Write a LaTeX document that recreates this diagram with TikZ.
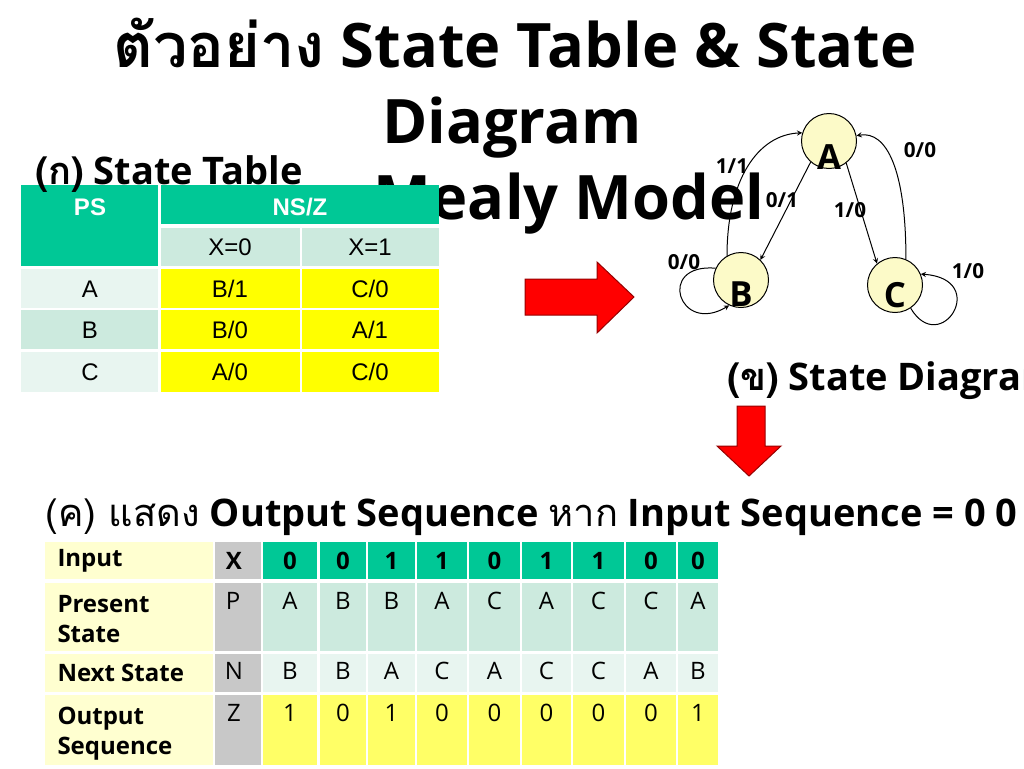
\documentclass[tikz,border=0pt]{standalone}
\usepackage{fontspec}
\setmainfont{Open Sans}
\newfontfamily\thaifont[Script=Thai]{Loma}
\newfontfamily\arialfont{Liberation Sans}
\usepackage{tikz}
\usetikzlibrary{calc,positioning,arrows}
\definecolor{Teal}{RGB}{0,200,150}
\definecolor{LightTeal}{RGB}{204,234,222}
\definecolor{PaleTeal}{RGB}{232,245,240}
\definecolor{Lemon}{RGB}{255,255,0}
\definecolor{Cream}{RGB}{255,255,208}
\definecolor{SoftYellow}{RGB}{255,255,102}
\definecolor{Grey}{RGB}{200,200,200}
\definecolor{StateFill}{RGB}{252,250,200}
\definecolor{ArrowRed}{RGB}{255,0,0}
\definecolor{DarkRed}{RGB}{150,0,0}
\newcommand{\thai}[1]{{\thaifont #1}}

\begin{document}
\begin{tikzpicture}[x=0.75pt, y=-0.75pt,
       >=stealth, line width=0.75pt,
       every node/.style={inner sep=0pt},
       titletext/.style={font=\bfseries\fontsize{46}{56}\selectfont, anchor=base},
       heading/.style={font=\bfseries\fontsize{28.5}{34}\selectfont, anchor=base west},
       tabhead/.style={font=\arialfont\bfseries\fontsize{18}{21}\selectfont, text=white},
       tabtext/.style={font=\arialfont\fontsize{18}{21}\selectfont},
       rowlabel/.style={font=\bfseries\fontsize{18}{22.5}\selectfont, align=left},
       valbold/.style={font=\bfseries\fontsize{18}{21}\selectfont},
       valtext/.style={font=\fontsize{18}{21}\selectfont, anchor=base},
       stnode/.style={circle, draw=black, fill=StateFill, minimum size=41.25pt},
       stletter/.style={anchor=base, font=\bfseries\fontsize{26}{30}\selectfont},
       elabel/.style={font=\bfseries\fontsize{15.5}{18}\selectfont},
       bigarrow/.style={fill=ArrowRed, draw=DarkRed, line width=0.75pt}]
	\useasboundingbox (0,0) rectangle (1024,768);
	\clip (0,0) rectangle (1024,768);

	%% Title
	\node[titletext] (title1) at (515,67) {\thai{ตัวอย่าง} State Table \& State};
	\node[titletext] (title2) at (512,143) {Diagram};
	\node[titletext] (title3) at (569,219) {Mealy Model};

	%% State table
	\fill[Teal] (21,185) rectangle (158,266);
	\fill[Teal] (161,185) rectangle (439,224);
	\fill[LightTeal] (161,228) rectangle (300,266);
	\fill[LightTeal] (302,228) rectangle (439,266);
	\fill[PaleTeal] (21,269) rectangle (158,308);
	\fill[LightTeal] (21,310) rectangle (158,349);
	\fill[PaleTeal] (21,352) rectangle (158,392);
	\foreach \yt/\yb in {269/308, 310/349, 352/392} {
		\fill[Lemon] (161,\yt) rectangle (300,\yb);
		\fill[Lemon] (302,\yt) rectangle (439,\yb);
	}
	\node[tabhead] (ps) at (90,207) {PS};
	\node[tabhead] (nsz) at (300,207) {NS/Z};
	\node[tabtext] (xzero) at (230,247) {X=0};
	\node[tabtext] (xone) at (370,247) {X=1};
	\node[tabtext] (psa) at (90,289) {A};
	\node[tabtext] (nsa0) at (230,289) {B/1};
	\node[tabtext] (nsa1) at (370,289) {C/0};
	\node[tabtext] (psb) at (90,330) {B};
	\node[tabtext] (nsb0) at (230,330) {B/0};
	\node[tabtext] (nsb1) at (370,330) {A/1};
	\node[tabtext] (psc) at (90,372) {C};
	\node[tabtext] (nsc0) at (230,372) {A/0};
	\node[tabtext] (nsc1) at (370,372) {C/0};
	\node[heading] (tablecap) at (35,184) {\thai{(ก)} State Table};

	%% Big arrows
	\draw[bigarrow] (525,279) -- (597,279) -- (597,262) -- (634,297) -- (597,333) -- (597,315) -- (525,315) -- cycle;
	\draw[bigarrow] (737,406) -- (765,406) -- (765,446) -- (781,446) -- (749,476) -- (717,446) -- (737,446) -- cycle;

	%% State diagram
	\node[stnode, label={[stletter]south:A}] (A) at (829,141) {};
	\node[stnode, label={[stletter, yshift=1.5pt]south:B}] (B) at (741,280) {};
	\node[stnode, label={[stletter, yshift=4pt]south:C}] (C) at (895,285) {};
	\draw[->] (B.120) .. controls +(0,-75) and +(-45,2) .. (A.163);
	\draw[->] (A.229) -- (B.46);
	\draw[->] (A.308) -- (C.130);
	\draw[->] (C.67) .. controls +(0,-90) and +(30,-5) .. (A.11);
	\draw[->] (B.155) .. controls +(-60,-5) and +(-50,30) .. (B.245);
	\draw[->] (C.304) .. controls +(30,50) and +(70,5) .. (C.23);
	\node[elabel] (l11) at (732,166) {1/1};
	\node[elabel] (l01) at (782,200) {0/1};
	\node[elabel] (l10a) at (850,210) {1/0};
	\node[elabel] (l00a) at (920,150) {0/0};
	\node[elabel] (l00b) at (684,262) {0/0};
	\node[elabel] (l10b) at (968,271) {1/0};
	\node[heading] (diagcap) at (727,390) {\thai{(ข)} State Diagram};

	%% Output sequence table
	\node[heading] (seqcap) at (45,526) {\mdseries\thai{(ค) แสดง} \bfseries Output Sequence \mdseries\thai{หาก} \bfseries Input Sequence = 0 0};
	\fill[Cream] (45,542) rectangle (213,579);
	\fill[Cream] (45,583) rectangle (213,651);
	\fill[Cream] (45,654) rectangle (213,692);
	\fill[Cream] (45,695) rectangle (213,765);
	\fill[Grey] (215,542) rectangle (261,579);
	\fill[Grey] (215,583) rectangle (261,651);
	\fill[Grey] (215,654) rectangle (261,692);
	\fill[Grey] (215,695) rectangle (261,765);
	\node[rowlabel, anchor=west] (lin) at (57,561) {Input};
	\node[rowlabel, anchor=north west] (lps) at (57,595) {Present\\State};
	\node[rowlabel, anchor=west] (lns) at (57,673) {Next State};
	\node[rowlabel, anchor=north west] (lout) at (57,707) {Output\\Sequence};
	\node[valbold] (vx) at (234,561) {X};
	\node[valtext] (vp) at (233,609) {P};
	\node[valtext] (vn) at (234,679) {N};
	\node[valtext] (vz) at (234,721) {Z};
	\foreach \l/\r/\vx/\vp/\vn/\vz [count=\i] in {263/317/0/A/B/1, 320/366/0/B/B/0,
	        368/415/1/B/A/1, 417/467/1/A/C/0, 469/520/0/C/A/0, 522/571/1/A/C/0,
	        573/624/1/C/C/0, 626/676/0/C/A/0, 678/718/0/A/B/1} {
		\fill[Teal] (\l,542) rectangle (\r,579);
		\fill[LightTeal] (\l,583) rectangle (\r,651);
		\fill[PaleTeal] (\l,654) rectangle (\r,692);
		\fill[SoftYellow] (\l,695) rectangle (\r,765);
		\node[valbold] (x\i) at ({(\l+\r)/2},561) {\vx};
		\node[valtext] (p\i) at ({(\l+\r)/2},609) {\vp};
		\node[valtext] (n\i) at ({(\l+\r)/2},679) {\vn};
		\node[valtext] (z\i) at ({(\l+\r)/2},721) {\vz};
	}
\end{tikzpicture}
\end{document}
